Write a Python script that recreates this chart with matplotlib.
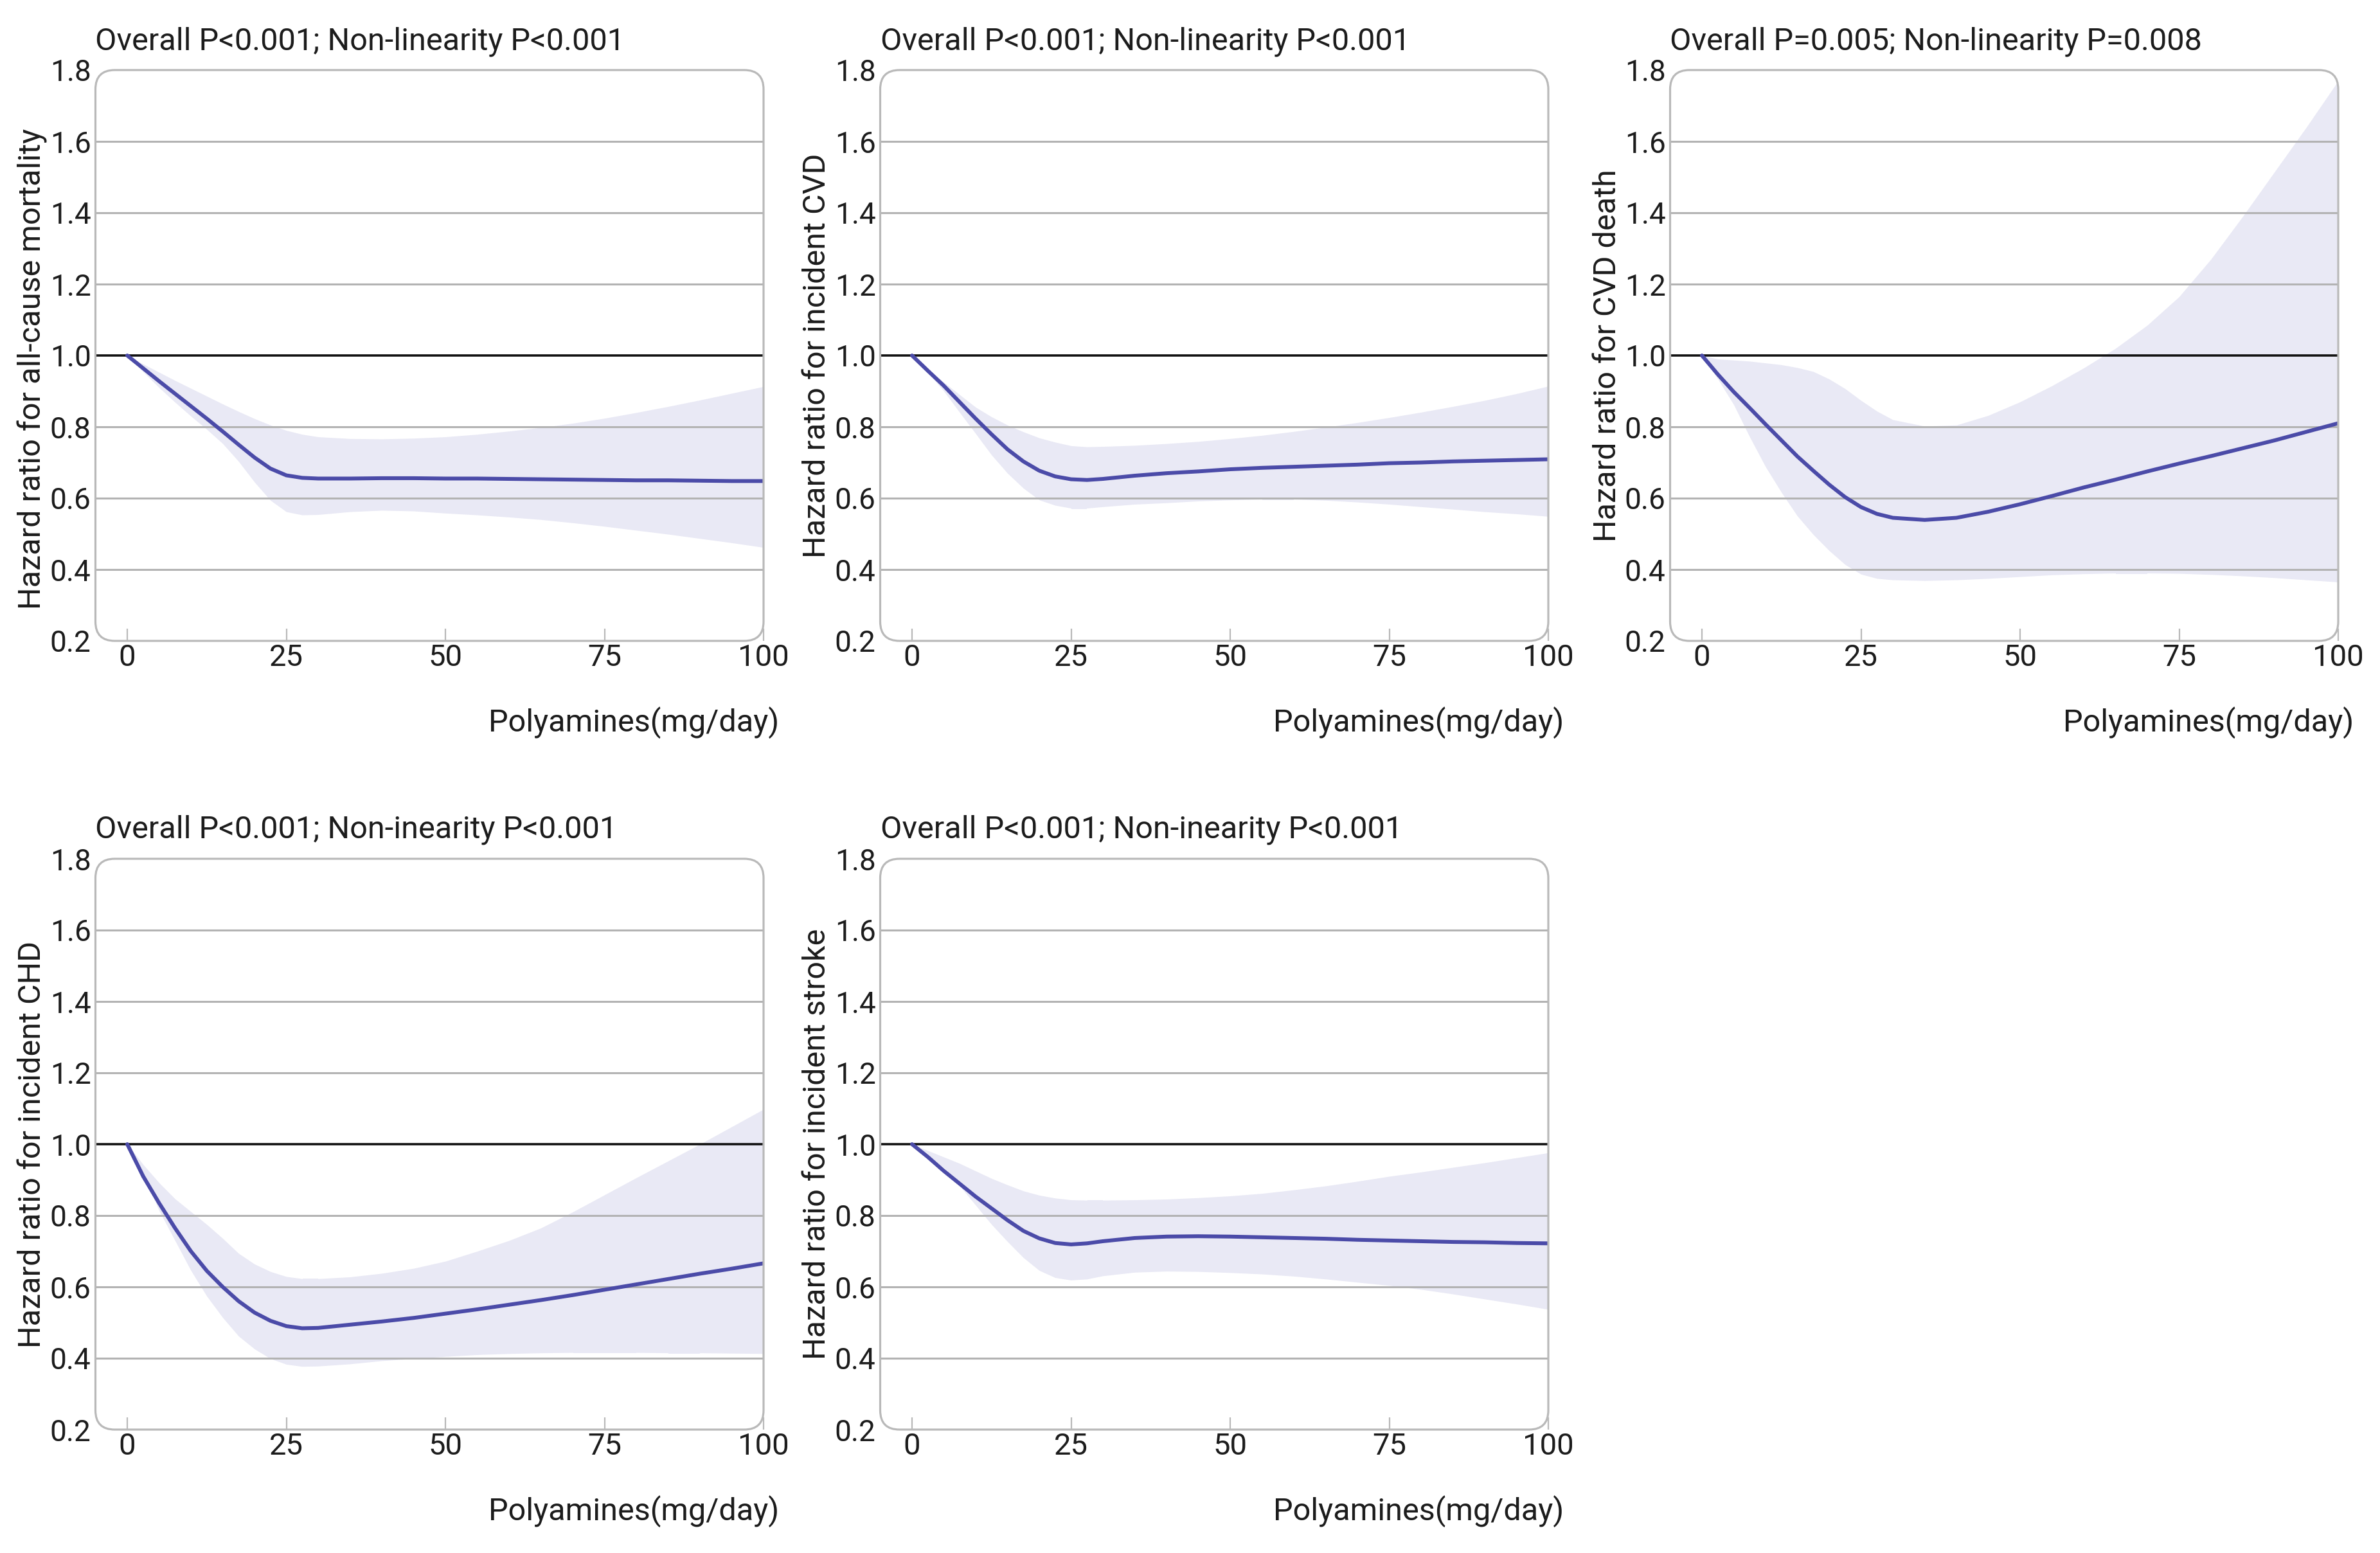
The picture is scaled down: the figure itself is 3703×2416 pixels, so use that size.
import matplotlib
matplotlib.use("Agg")
import matplotlib.pyplot as plt
from matplotlib.patches import FancyBboxPatch

plt.rcParams["font.family"] = ["Roboto", "DejaVu Sans"]

dose = [0, 2.5, 5, 7.5, 10, 12.5, 15, 17.5, 20, 22.5, 25, 27.5, 30, 35, 40,
        45, 50, 55, 60, 65, 70, 75, 80, 85, 90, 95, 100]

allcause_hr = [1.0, 0.964, 0.928, 0.893, 0.858, 0.823, 0.787, 0.750, 0.714, 0.683, 0.664, 0.657, 0.655, 0.655,
               0.656, 0.656, 0.655, 0.655, 0.654, 0.653, 0.652, 0.651, 0.650, 0.650, 0.649, 0.648, 0.648]
allcause_lo = [1.0, 0.954, 0.91, 0.869, 0.83, 0.793, 0.753, 0.703, 0.645, 0.594, 0.562, 0.553, 0.554, 0.562,
               0.566, 0.564, 0.558, 0.553, 0.547, 0.54, 0.531, 0.521, 0.51, 0.499, 0.487, 0.475, 0.462]
allcause_hi = [1.0, 0.976, 0.953, 0.93, 0.908, 0.886, 0.864, 0.843, 0.823, 0.805, 0.79, 0.779, 0.772, 0.767,
               0.766, 0.768, 0.772, 0.779, 0.788, 0.798, 0.81, 0.824, 0.84, 0.857, 0.875, 0.894, 0.913]

cvd_hr = [1.0, 0.957, 0.915, 0.869, 0.823, 0.779, 0.737, 0.703, 0.677, 0.661, 0.653, 0.651, 0.654, 0.663,
          0.670, 0.675, 0.681, 0.685, 0.688, 0.691, 0.694, 0.698, 0.700, 0.703, 0.705, 0.707, 0.709]
cvd_lo = [1.0, 0.952, 0.90, 0.84, 0.781, 0.721, 0.67, 0.628, 0.595, 0.58, 0.572, 0.572, 0.576, 0.583,
          0.587, 0.592, 0.595, 0.597, 0.597, 0.594, 0.589, 0.583, 0.576, 0.569, 0.562, 0.556, 0.549]
cvd_hi = [1.0, 0.962, 0.925, 0.89, 0.855, 0.828, 0.805, 0.786, 0.769, 0.757, 0.747, 0.744, 0.745, 0.748,
          0.753, 0.759, 0.767, 0.776, 0.787, 0.799, 0.812, 0.826, 0.841, 0.857, 0.874, 0.893, 0.914]

cvd_death_hr = [1.0, 0.947, 0.898, 0.853, 0.807, 0.762, 0.717, 0.677, 0.638, 0.603, 0.575, 0.556, 0.545,
                0.539, 0.545, 0.562, 0.583, 0.606, 0.63, 0.652, 0.675, 0.697, 0.718, 0.74, 0.762, 0.786, 0.81]
cvd_death_lo = [1.0, 0.934, 0.862, 0.772, 0.688, 0.616, 0.55, 0.498, 0.453, 0.414, 0.387, 0.375, 0.371,
                0.369, 0.371, 0.375, 0.38, 0.385, 0.388, 0.39, 0.39, 0.389, 0.386, 0.382, 0.377, 0.371, 0.365]
cvd_death_hi = [1.0, 0.99, 0.987, 0.984, 0.979, 0.974, 0.966, 0.955, 0.934, 0.907, 0.874, 0.844, 0.82,
                0.802, 0.805, 0.832, 0.87, 0.915, 0.965, 1.02, 1.085, 1.165, 1.27, 1.39, 1.515, 1.64, 1.77]

chd_hr = [1.0, 0.91, 0.835, 0.765, 0.70, 0.645, 0.6, 0.56, 0.528, 0.505, 0.49, 0.484, 0.485, 0.494,
          0.503, 0.513, 0.525, 0.537, 0.55, 0.563, 0.577, 0.592, 0.607, 0.622, 0.637, 0.651, 0.666]
chd_lo = [1.0, 0.916, 0.814, 0.73, 0.646, 0.574, 0.514, 0.462, 0.426, 0.399, 0.383, 0.377, 0.378, 0.384,
          0.393, 0.399, 0.405, 0.41, 0.413, 0.415, 0.416, 0.416, 0.416, 0.415, 0.415, 0.414, 0.413]
chd_hi = [1.0, 0.943, 0.892, 0.847, 0.811, 0.775, 0.736, 0.694, 0.664, 0.643, 0.629, 0.623, 0.623, 0.628,
          0.638, 0.652, 0.672, 0.70, 0.73, 0.765, 0.81, 0.858, 0.906, 0.953, 1.0, 1.049, 1.098]

stroke_hr = [1.0, 0.964, 0.925, 0.889, 0.853, 0.82, 0.787, 0.757, 0.736, 0.723, 0.719, 0.722, 0.728, 0.737,
             0.741, 0.742, 0.741, 0.739, 0.737, 0.735, 0.732, 0.73, 0.728, 0.726, 0.725, 0.723, 0.722]
stroke_lo = [1.0, 0.967, 0.934, 0.883, 0.829, 0.775, 0.727, 0.682, 0.646, 0.626, 0.619, 0.622, 0.631, 0.641,
             0.644, 0.643, 0.64, 0.636, 0.63, 0.622, 0.613, 0.604, 0.593, 0.58, 0.566, 0.552, 0.537]
stroke_hi = [1.0, 0.982, 0.964, 0.946, 0.925, 0.904, 0.886, 0.869, 0.857, 0.849, 0.844, 0.843, 0.843, 0.844,
             0.846, 0.85, 0.855, 0.862, 0.872, 0.883, 0.896, 0.91, 0.922, 0.935, 0.948, 0.962, 0.976]

titles = [
    "Overall P<0.001; Non-linearity P<0.001",
    "Overall P<0.001; Non-linearity P<0.001",
    "Overall P=0.005; Non-linearity P=0.008",
    "Overall P<0.001; Non-inearity P<0.001",
    "Overall P<0.001; Non-inearity P<0.001",
]
ylabels = [
    "Hazard ratio for all-cause mortality",
    "Hazard ratio for incident CVD",
    "Hazard ratio for CVD death",
    "Hazard ratio for incident CHD",
    "Hazard ratio for incident stroke",
]
xlabel = "Polyamines(mg/day)"
xticks = [0, 25, 50, 75, 100]
yticks = [0.2, 0.4, 0.6, 0.8, 1.0, 1.2, 1.4, 1.6, 1.8]
grid_levels = [0.4, 0.6, 0.8, 1.2, 1.4, 1.6]

LINE = "#4b4ba8"
BAND = "#e9e9f5"
FRAME = "#b9b9b9"
GRID = "#b3b3b3"
TEXT = "#1c1c1c"

W, H = 3703, 2416
fig = plt.figure(figsize=(W / 100, H / 100), dpi=100)
fig.patch.set_facecolor("white")

# panel boxes in pixels
col_left = [148.5, 1369.5, 2598.5]
row_top = [109, 1336]
box_w, box_h = 1039.5, 888
slots = [(0, 0), (0, 1), (0, 2), (1, 0), (1, 1)]
label_y = [0.476, 0.5, 0.5, 0.5, 0.5]
series = [
    (allcause_hr, allcause_lo, allcause_hi),
    (cvd_hr, cvd_lo, cvd_hi),
    (cvd_death_hr, cvd_death_lo, cvd_death_hi),
    (chd_hr, chd_lo, chd_hi),
    (stroke_hr, stroke_lo, stroke_hi),
]

radius_px = 30

for i, (r, c) in enumerate(slots):
    left = col_left[c]
    top = row_top[r]
    ax = fig.add_axes([left / W, (H - top - box_h) / H, box_w / W, box_h / H])
    ax.set_xlim(-5, 100)
    ax.set_ylim(0.2, 1.8)
    for s in ax.spines.values():
        s.set_visible(False)

    frame = FancyBboxPatch(
        (0, 0), 1, 1,
        boxstyle="round,pad=0,rounding_size=%f" % (radius_px / box_w),
        mutation_aspect=box_w / box_h,
        transform=ax.transAxes, facecolor="none", edgecolor=FRAME,
        linewidth=2.3, clip_on=False, zorder=6,
    )
    ax.add_patch(frame)

    hr, lo, hi = series[i]
    band = ax.fill_between(dose, lo, hi, color=BAND, linewidth=0, zorder=1)
    band.set_clip_path(frame)
    for g in grid_levels:
        ax.axhline(g, color=GRID, linewidth=2.2, zorder=2)
    ax.axhline(1.0, color="#111111", linewidth=2.6, zorder=3)
    (curve,) = ax.plot(dose, hr, color=LINE, linewidth=4.3, zorder=4,
                       solid_capstyle="round", solid_joinstyle="round")
    curve.set_clip_path(frame)

    ax.set_xticks(xticks)
    ax.set_yticks(yticks)
    ax.set_yticklabels(["%.1f" % v for v in yticks])
    ax.tick_params(axis="x", direction="in", length=14, width=1.6, color=FRAME,
                   pad=3, labelsize=34, labelcolor=TEXT)
    ax.tick_params(axis="y", length=0, pad=5, labelsize=33, labelcolor=TEXT)

    ax.text(0, 1 + 32 / box_h, titles[i], transform=ax.transAxes,
            ha="left", va="baseline", fontsize=35, color=TEXT)

    ax.set_ylabel(ylabels[i], fontsize=35, color=TEXT, va="center")
    ax.yaxis.set_label_coords(-98 / box_w, label_y[i])
    ax.set_xlabel(xlabel, fontsize=35, color=TEXT, ha="right", va="center")
    ax.xaxis.set_label_coords(1 + 24 / box_w, -127 / box_h)

fig.savefig("out.png", dpi=100, facecolor="white")
